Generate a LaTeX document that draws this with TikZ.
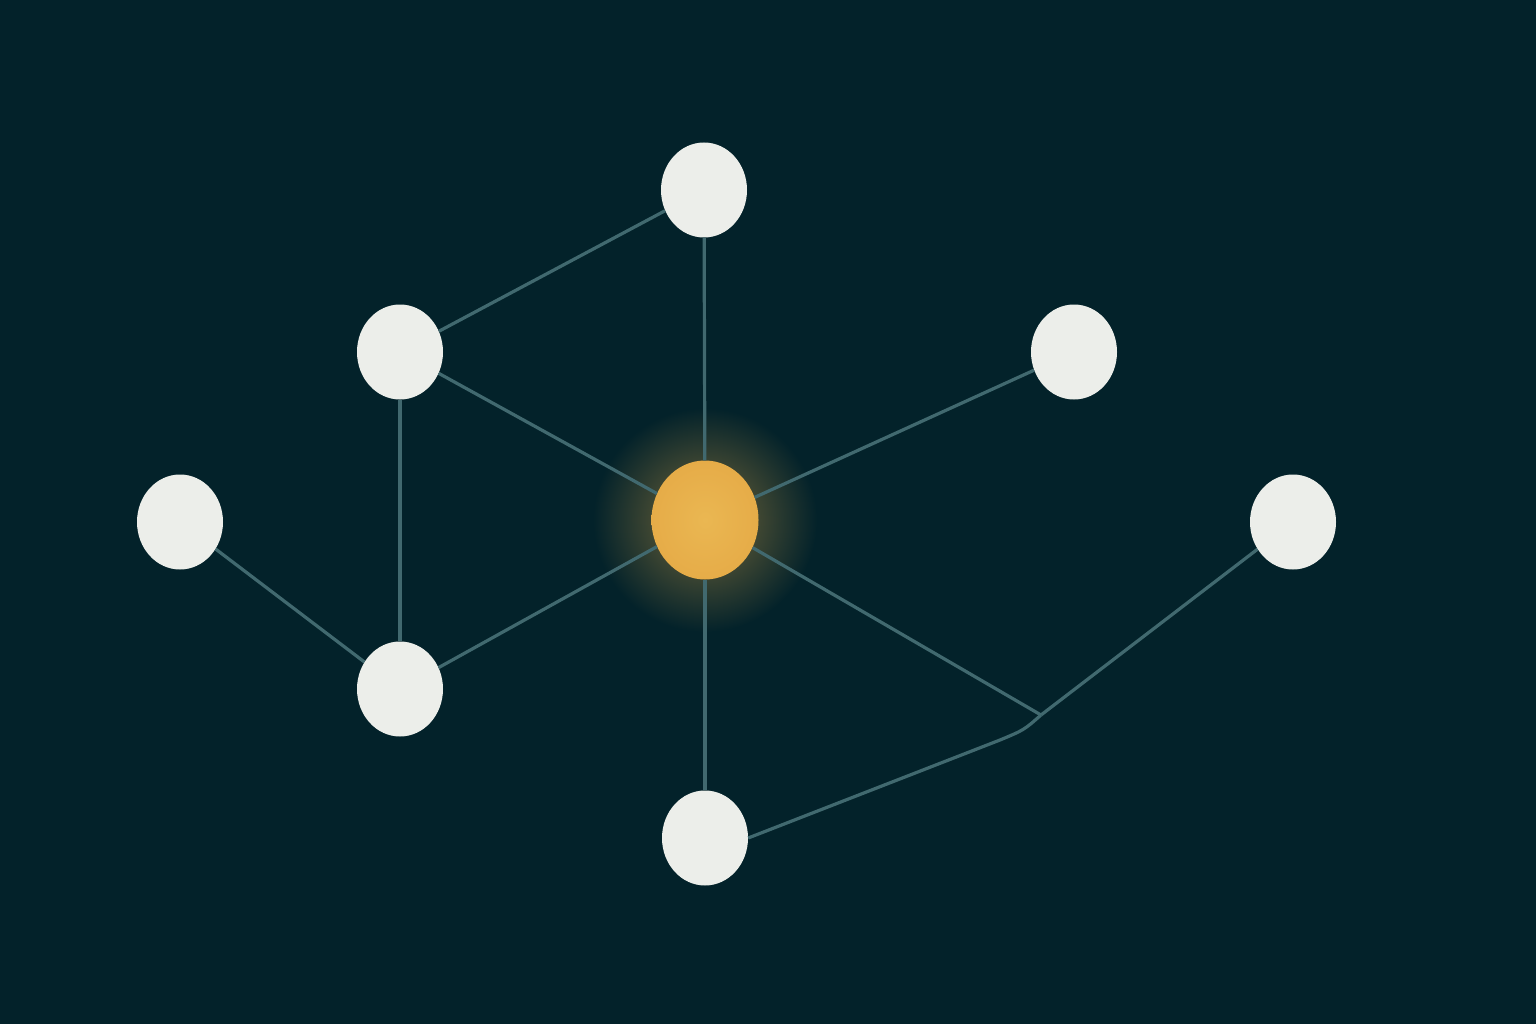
\documentclass[tikz,border=0pt]{standalone}
\usetikzlibrary{shapes.geometric}
\definecolor{bg}{HTML}{03222A}
\definecolor{edgec}{HTML}{41696F}
\definecolor{nodec}{HTML}{ECEEEA}
\definecolor{hub}{HTML}{E6AC48}
\definecolor{hublight}{HTML}{EAB752}
\begin{document}
\begin{tikzpicture}[x=1pt,y=-1pt,
  wnode/.style={ellipse, fill=nodec, minimum width=86pt, minimum height=95pt, inner sep=0pt},
  hnode/.style={ellipse, minimum width=107pt, minimum height=119pt, inner sep=0pt, shading=radial, inner color=hublight, outer color=hub},
  link/.style={draw=edgec, line width=3.2pt}]
\fill[bg] (0,0) rectangle (1536,1024);
\useasboundingbox (0,0) rectangle (1536,1024);
% glow
\shade[inner color=hub!50!bg, outer color=bg] (705,520) circle (112);
\coordinate (j) at (1041,715);
\coordinate (bend) at (1000,740);
\node[wnode] (top) at (704,190) {};
\node[wnode] (ul) at (400,352) {};
\node[wnode] (ur) at (1074,352) {};
\node[wnode] (l) at (180,522) {};
\node[wnode] (r) at (1293,522) {};
\node[wnode] (ll) at (400,689) {};
\node[wnode] (b) at (705,838) {};
\node[hnode] (c) at (705,520) {};
\draw[link] (top) -- (ul);
\draw[link] (top) -- (c);
\draw[link] (ul) -- (c);
\draw[link] (ul) -- (ll);
\draw[link] (l) -- (ll);
\draw[link] (ll) -- (c);
\draw[link] (c) -- (ur);
\draw[link] (c) -- (j);
\draw[link] (c) -- (b);
\draw[link] (j) -- (r);
\draw[link, line join=round] (b.east) -- (bend) .. controls (1024,730) .. (j);
\end{tikzpicture}
\end{document}
